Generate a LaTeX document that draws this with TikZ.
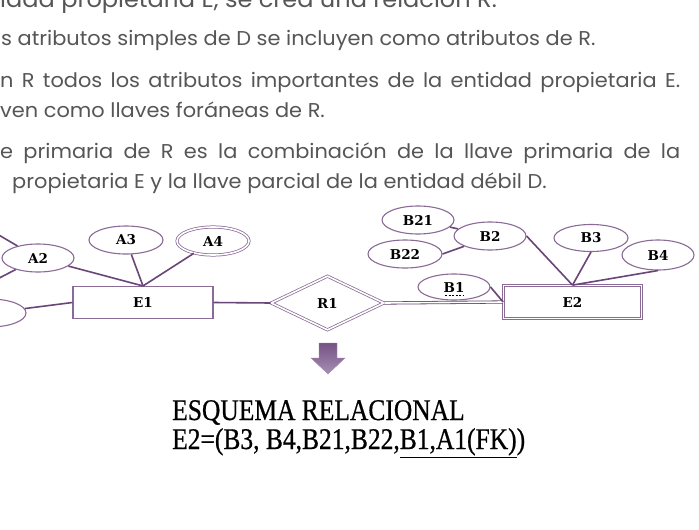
\documentclass[tikz,border=0pt]{standalone}
\usepackage{fontspec}
\usetikzlibrary{shapes.geometric}
\newfontfamily\slidefont[FakeStretch=1.045]{Poppins}
\newfontfamily\erfont{DejaVu Serif}
\newfontfamily\schemafont[FakeStretch=0.85, FakeBold=0.6]{Liberation Serif}
\definecolor{erline}{HTML}{6A4577}
\definecolor{erborder}{HTML}{8A6B96}
\definecolor{slidegray}{HTML}{565656}
\definecolor{arrowtop}{HTML}{765286}
\definecolor{arrowbot}{HTML}{A68EB1}

\begin{document}
\begin{tikzpicture}[x=1pt, y=-1pt,
    slidetext/.style = {anchor=base west, inner sep=0pt, text=slidegray,
                        font=\slidefont\fontsize{20}{24}\selectfont},
    attr/.style      = {ellipse, draw=erborder, line width=1.1pt, inner sep=0pt,
                        minimum width=72pt, minimum height=28pt,
                        font=\erfont\bfseries\fontsize{13.5}{15}\selectfont},
    entity/.style    = {rectangle, draw=erborder, line width=1.1pt, inner sep=0pt,
                        font=\erfont\bfseries\fontsize{13.5}{15}\selectfont},
    rel/.style       = {diamond, draw=erborder, line width=.8pt, inner sep=0pt,
                        font=\erfont\bfseries\fontsize{13.5}{15}\selectfont},
    twice/.style     = {double, double distance=1.6pt, line width=.75pt},
    link/.style      = {draw=erline, line width=1.6pt},
    schematext/.style = {anchor=base west, inner sep=0pt,
                        font=\schemafont\fontsize{30}{34}\selectfont}
  ]
    \useasboundingbox (0,0) rectangle (699,530);
    \fill[white] (0,0) rectangle (699,530);
    \clip (0,0) rectangle (699,530);

    \node[slidetext, anchor=base east, font=\slidefont\fontsize{23}{27}\selectfont] (t0) at (497, 8)
      {idad propietaria E, se crea una relación R.};
    \node[slidetext] (t1) at (1, 45) {s atributos simples de D se incluyen como atributos de R.};
    \node[slidetext] (t2) at (0, 87) {\makebox[680pt][s]{n R todos los atributos importantes de la entidad propietaria E.}};
    \node[slidetext] (t3) at (0, 117) {ven como llaves foráneas de R.};
    \node[slidetext] (t4) at (0, 158) {\makebox[680pt][s]{e primaria de R es la combinación de la llave primaria de la}};
    \node[slidetext] (t5) at (12, 188) {propietaria E y la llave parcial de la entidad débil D.};

    \node[entity, minimum width=140pt, minimum height=32pt] (E1) at (143, 302.5) {E1};
    \node[entity, twice, minimum width=138pt, minimum height=33pt] (E2) at (572.5, 302) {E2};
    \node[rel, twice, minimum width=113pt, minimum height=54pt, aspect=2.1] (R1) at (327.5, 303) {R1};

    \node[attr] (A1) at (-10, 313) {A1};
    \node[attr] (A2) at (38, 258) {A2};
    \node[attr, minimum width=74pt] (A3) at (126, 240) {A3};
    \node[attr, twice, minimum width=72pt, minimum height=28pt] (A4) at (213, 241) {A4};

    \node[attr] (B21) at (418, 220) {B21};
    \node[attr] (B2) at (490, 236) {B2};
    \node[attr, minimum width=74pt] (B22) at (405, 254) {B22};
    \node[attr, minimum width=74pt, minimum height=27pt] (B3) at (591, 238) {B3};
    \node[attr, minimum height=30pt] (B4) at (658, 255) {B4};
    \node[attr, minimum height=26pt] (B1) at (454, 287) {B1};
    \draw[dash pattern=on 2pt off 1.5pt, line width=.8pt]
      ([xshift=-9pt, yshift=-8pt]B1.center) -- ([xshift=9pt, yshift=-8pt]B1.center);

    \coordinate (offA) at (-20, 224);
    \coordinate (offB) at (-20, 288);

    \draw[link] (A2) -- (offA);
    \draw[link] (A2) -- (offB);
    \draw[link] (A2) -- (E1.north);
    \draw[link] (A3) -- (E1.north);
    \draw[link] (A4) -- (E1.north);
    \draw[link] (A1) -- (E1.west);
    \draw[link] (E1.east) -- (R1.west);
    \draw[link, twice, line width=.8pt] (R1.east) -- (E2.west);

    \draw[link] (B21) -- (B2);
    \draw[link] (B22.east) -- (B2.south west);
    \draw[link] (B2.east) -- (E2.north);
    \draw[link] (B3.south) -- (E2.north);
    \draw[link] (B4.south) -- (E2.north);
    \draw[link] (B1.east) -- (E2.west);

    \shade[top color=arrowtop, bottom color=arrowbot, draw=arrowbot, line width=.4pt]
      (319, 343) -- (337, 343) -- (337, 358) -- (345, 358) -- (328, 374)
      -- (311, 358) -- (319, 358) -- cycle;

    \node[schematext] (schema) at (172, 420) {ESQUEMA RELACIONAL};
    \node[schematext] (relation) at (172, 449) {E2=(B3, B4,B21,B22,\underline{B1,A1(FK)})};
  \end{tikzpicture}
\end{document}
